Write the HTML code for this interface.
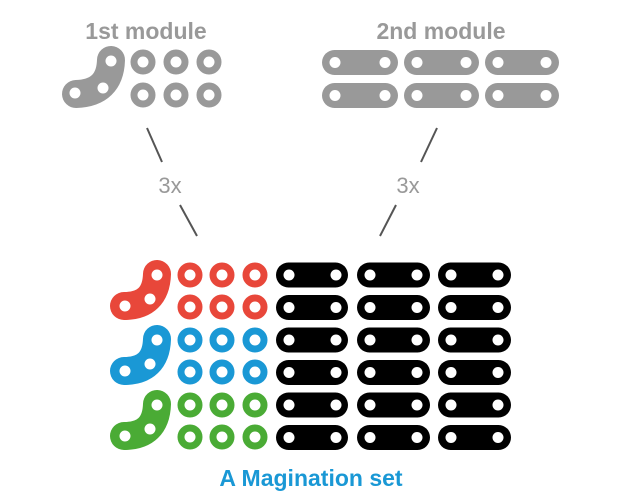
<!DOCTYPE html>
<html><head><style>
html,body{margin:0;padding:0;background:#fff;}
svg{display:block;}
</style></head><body>
<svg width="621" height="501" viewBox="0 0 621 501" xmlns="http://www.w3.org/2000/svg">
<g font-family="Liberation Sans, sans-serif" font-weight="bold" text-anchor="middle">
<text x="146" y="39" font-size="23" fill="#999">1st module</text>
<text x="441" y="39" font-size="23" fill="#999">2nd module</text>
<text x="170" y="193" font-size="22" fill="#999" font-weight="normal">3x</text>
<text x="408" y="193" font-size="22" fill="#999" font-weight="normal">3x</text>
<text x="311" y="486" font-size="23" fill="#1a98d5">A Magination set</text>
</g>
<g stroke="#555" stroke-width="2">
<line x1="147" y1="128" x2="162" y2="162"/>
<line x1="180" y1="205" x2="197" y2="236"/>
<line x1="437" y1="128" x2="421" y2="162"/>
<line x1="396" y1="205" x2="380" y2="236"/>
</g>
<g>
<path d="M111,60 Q110,93 76,94" stroke="#999" stroke-width="28" fill="none" stroke-linecap="round"/>
<circle cx="111" cy="61" r="5.5" fill="#fff"/><circle cx="103" cy="88" r="5.5" fill="#fff"/><circle cx="75" cy="93" r="5.5" fill="#fff"/>
<g fill="none" stroke="#999" stroke-width="7">
<circle cx="143" cy="62" r="9"/><circle cx="176" cy="62" r="9"/><circle cx="209" cy="62" r="9"/>
<circle cx="143" cy="95" r="9"/><circle cx="176" cy="95" r="9"/><circle cx="209" cy="95" r="9"/>
</g>
</g>
<g fill="#999">
<rect x="322" y="50" width="76" height="25" rx="12.5"/><rect x="404" y="50" width="75" height="25" rx="12.5"/><rect x="485" y="50" width="74" height="25" rx="12.5"/>
<rect x="322" y="83" width="76" height="25" rx="12.5"/><rect x="404" y="83" width="75" height="25" rx="12.5"/><rect x="485" y="83" width="74" height="25" rx="12.5"/>
</g>
<g fill="#fff">
<circle cx="335" cy="62.5" r="5.5"/><circle cx="385" cy="62.5" r="5.5"/><circle cx="417" cy="62.5" r="5.5"/><circle cx="466" cy="62.5" r="5.5"/><circle cx="498" cy="62.5" r="5.5"/><circle cx="546" cy="62.5" r="5.5"/>
<circle cx="335" cy="95.5" r="5.5"/><circle cx="385" cy="95.5" r="5.5"/><circle cx="417" cy="95.5" r="5.5"/><circle cx="466" cy="95.5" r="5.5"/><circle cx="498" cy="95.5" r="5.5"/><circle cx="546" cy="95.5" r="5.5"/>
</g>
<g>
<path d="M157,274 Q156,306 124,306" stroke="#e8473a" stroke-width="28" fill="none" stroke-linecap="round"/>
<circle cx="157" cy="275" r="5.5" fill="#fff"/><circle cx="150" cy="299" r="5.5" fill="#fff"/><circle cx="125" cy="306" r="5.5" fill="#fff"/>
<g fill="none" stroke="#e8473a" stroke-width="7">
<circle cx="190" cy="275" r="9"/><circle cx="222" cy="275" r="9"/><circle cx="255" cy="275" r="9"/>
<circle cx="190" cy="307" r="9"/><circle cx="222" cy="307" r="9"/><circle cx="255" cy="307" r="9"/>
</g>
</g>
<g transform="translate(0,65)">
<path d="M157,274 Q156,306 124,306" stroke="#1a98d5" stroke-width="28" fill="none" stroke-linecap="round"/>
<circle cx="157" cy="275" r="5.5" fill="#fff"/><circle cx="150" cy="299" r="5.5" fill="#fff"/><circle cx="125" cy="306" r="5.5" fill="#fff"/>
<g fill="none" stroke="#1a98d5" stroke-width="7">
<circle cx="190" cy="275" r="9"/><circle cx="222" cy="275" r="9"/><circle cx="255" cy="275" r="9"/>
<circle cx="190" cy="307" r="9"/><circle cx="222" cy="307" r="9"/><circle cx="255" cy="307" r="9"/>
</g>
</g>
<g transform="translate(0,130)">
<path d="M157,274 Q156,306 124,306" stroke="#4aab35" stroke-width="28" fill="none" stroke-linecap="round"/>
<circle cx="157" cy="275" r="5.5" fill="#fff"/><circle cx="150" cy="299" r="5.5" fill="#fff"/><circle cx="125" cy="306" r="5.5" fill="#fff"/>
<g fill="none" stroke="#4aab35" stroke-width="7">
<circle cx="190" cy="275" r="9"/><circle cx="222" cy="275" r="9"/><circle cx="255" cy="275" r="9"/>
<circle cx="190" cy="307" r="9"/><circle cx="222" cy="307" r="9"/><circle cx="255" cy="307" r="9"/>
</g>
</g>
<g id="prow">
<rect x="276" y="262.5" width="72" height="25" rx="12.5" fill="#000"/>
<rect x="357" y="262.5" width="73" height="25" rx="12.5" fill="#000"/>
<rect x="438" y="262.5" width="73" height="25" rx="12.5" fill="#000"/>
<g fill="#fff">
<circle cx="289" cy="275" r="5.5"/><circle cx="336" cy="275" r="5.5"/>
<circle cx="370" cy="275" r="5.5"/><circle cx="417" cy="275" r="5.5"/>
<circle cx="451" cy="275" r="5.5"/><circle cx="498" cy="275" r="5.5"/>
</g>
</g>
<use href="#prow" y="32.5"/>
<use href="#prow" y="65"/>
<use href="#prow" y="97.5"/>
<use href="#prow" y="130"/>
<use href="#prow" y="162.5"/>
</svg>
</body></html>
